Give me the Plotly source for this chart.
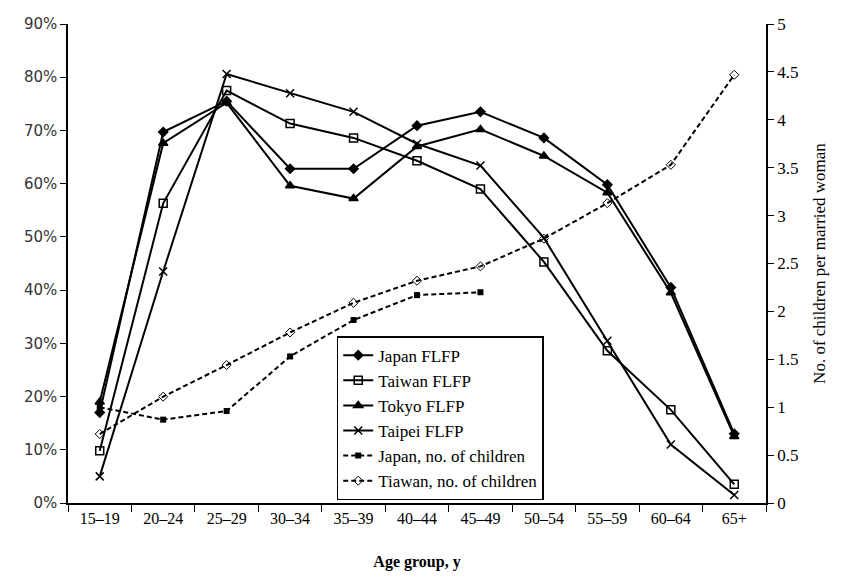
import plotly.graph_objects as go

ages = ["15–19", "20–24", "25–29", "30–34", "35–39", "40–44", "45–49", "50–54", "55–59", "60–64", "65+"]
japan_flfp = [17.0, 69.7, 75.5, 62.8, 62.8, 70.9, 73.5, 68.6, 59.8, 40.5, 13.0]
taiwan_flfp = [9.8, 56.3, 77.5, 71.3, 68.6, 64.3, 59.0, 45.3, 28.6, 17.5, 3.5]
tokyo_flfp = [19.0, 67.6, 75.2, 59.6, 57.2, 67.0, 70.2, 65.2, 58.3, 39.5, 12.5]
taipei_flfp = [5.0, 43.5, 80.6, 77.0, 73.5, 67.5, 63.4, 49.8, 30.5, 11.0, 1.5]
japan_children = [1.0, 0.87, 0.96, 1.53, 1.91, 2.17, 2.2]
taiwan_children = [0.72, 1.11, 1.44, 1.78, 2.09, 2.32, 2.47, 2.76, 3.13, 3.53, 4.47]

SERIF = "Liberation Serif"
fig = go.Figure()

def flfp(name, vals, symbol, size=8, open_=False):
    fig.add_trace(go.Scatter(
        x=ages, y=[v / 100 for v in vals], name=name, mode="lines+markers",
        line=dict(color="black", width=2),
        marker=dict(symbol=symbol, size=size, color="white" if open_ else "black",
                    line=dict(color="black", width=1.5)),
    ))

flfp("Japan FLFP", japan_flfp, "diamond", 7)
flfp("Taiwan FLFP", taiwan_flfp, "square-open", 8)
flfp("Tokyo FLFP", tokyo_flfp, "triangle-up", 8)
flfp("Taipei FLFP", taipei_flfp, "x-thin", 8)

fig.add_trace(go.Scatter(
    x=ages[:len(japan_children)], y=japan_children, name="Japan, no. of children",
    mode="lines+markers", yaxis="y2",
    line=dict(color="black", width=2, dash="5px,3px"),
    marker=dict(symbol="square", size=6, color="black"),
))
fig.add_trace(go.Scatter(
    x=ages, y=taiwan_children, name="Tiawan, no. of children",
    mode="lines+markers", yaxis="y2",
    line=dict(color="black", width=2, dash="5px,3px"),
    marker=dict(symbol="diamond-open", size=7, color="black", line=dict(width=1)),
))

fig.update_layout(
    width=841, height=580,
    margin=dict(l=68, r=75, t=24, b=77),
    plot_bgcolor="white", paper_bgcolor="white",
    showlegend=True,
    legend=dict(
        x=0.385, y=0.006, xanchor="left", yanchor="bottom",
        bordercolor="black", borderwidth=1.5, bgcolor="white",
        font=dict(family=SERIF, size=17, color="black"),
        tracegroupgap=0, itemwidth=30,
    ),
    xaxis=dict(
        type="category", tickson="boundaries", ticks="outside", ticklen=7,
        tickcolor="black", showline=True, linecolor="black", linewidth=1.5,
        showgrid=False, range=[-0.5, 10.5],
        tickfont=dict(family=SERIF, size=16, color="black"),
        title=dict(text="<b>Age group, y</b>", font=dict(family=SERIF, size=16, color="black"), standoff=30),
    ),
    yaxis=dict(
        range=[0, 0.9], dtick=0.1, tickformat=".0%", ticks="outside", ticklen=6,
        tickcolor="black", showline=True, linecolor="black", linewidth=1.5,
        showgrid=False, zeroline=False,
        tickfont=dict(family="DejaVu Sans", size=15, color="#333"),
    ),
    yaxis2=dict(
        overlaying="y", side="right", range=[0, 5], dtick=0.5, ticks="outside", ticklen=6,
        tickcolor="black", showline=True, linecolor="black", linewidth=1.5,
        showgrid=False, zeroline=False,
        tickfont=dict(family=SERIF, size=17, color="black"),
        title=dict(text="No. of children per married woman", font=dict(family=SERIF, size=17, color="black"), standoff=16),
    ),
)

fig.write_html("out.html")
